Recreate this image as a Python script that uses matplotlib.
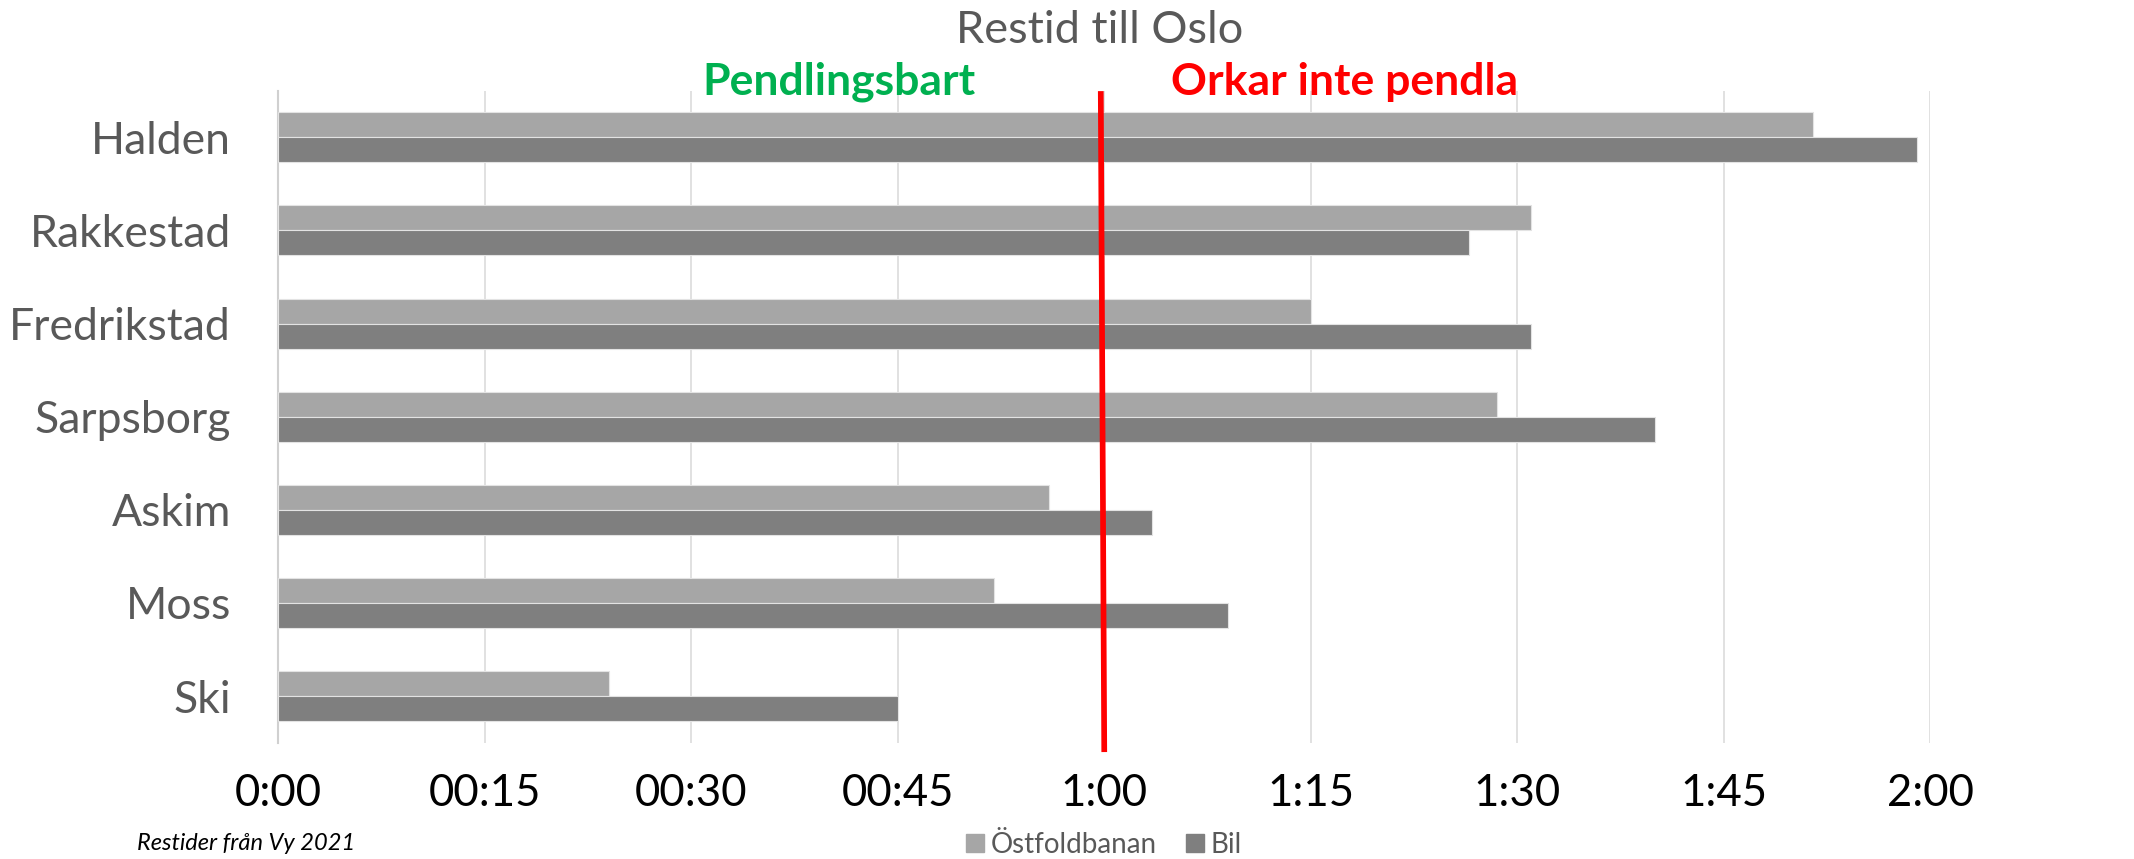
import numpy as np
import matplotlib.pyplot as plt
from matplotlib.lines import Line2D

# Restid till Oslo, minutes
towns = ["Halden", "Rakkestad", "Fredrikstad", "Sarpsborg", "Askim", "Moss", "Ski"]
ostfoldbanan = [111.5, 91, 75, 88.5, 56, 52, 24]
bil = [119, 86.5, 91, 100, 63.5, 69, 45]

tick_vals = [0, 15, 30, 45, 60, 75, 90, 105, 120]
tick_labels = ["0:00", "00:15", "00:30", "00:45", "1:00", "1:15", "1:30", "1:45", "2:00"]

grey_text = '#595959'
plt.rcParams['font.family'] = ['Lato', 'DejaVu Sans']

fig = plt.figure(figsize=(21.34, 8.59), dpi=100)
ax = fig.add_axes([0.1303, 0.1354, 0.7743, 0.759])

y = np.arange(len(towns))
h = 0.268
ax.barh(y - h/2, ostfoldbanan, height=h, color='#A6A6A6', edgecolor='#e3e3e3', linewidth=0.8, zorder=3)
ax.barh(y + h/2, bil, height=h, color='#7F7F7F', edgecolor='#e3e3e3', linewidth=0.8, zorder=3)

ax.set_xlim(0, 120)
ax.set_ylim(len(towns) - 0.5, -0.5)
ax.set_xticks(tick_vals)
ax.set_xticklabels(tick_labels, fontsize=31.5, color='black')
ax.set_yticks(y)
ax.set_yticklabels(towns, fontsize=32, color=grey_text)
ax.tick_params(axis='both', length=0)
ax.tick_params(axis='x', pad=22)
ax.tick_params(axis='y', pad=34)

ax.grid(axis='x', color='#D9D9D9', linewidth=1.1, zorder=0)
ax.set_axisbelow(True)
for s in ['top', 'right', 'bottom']:
    ax.spines[s].set_visible(False)
ax.spines['left'].set_color('#D0D0D0')
ax.spines['left'].set_linewidth(1.5)

# red 1 hour limit
ax.plot([59.75, 60.0], [0.995, -0.010], color='red', linewidth=4.1,
        transform=ax.get_xaxis_transform(), clip_on=False, zorder=5)

fig.text(1100/2134, 1 - 43/859, "Restid till Oslo", fontsize=32.5, color=grey_text,
         ha='center', va='baseline')
fig.text(839/2134, 1 - 95/859, "Pendlingsbart", fontsize=32, fontweight='bold',
         color='#00B050', ha='center', va='baseline')
fig.text(1345/2134, 1 - 95/859, "Orkar inte pendla", fontsize=32, fontweight='bold',
         color='red', ha='center', va='baseline')

fig.text(137/2134, 1 - 843/859, "Restider från Vy 2021", fontsize=17, style='italic',
         color='black', ha='left', va='center')

handles = [Line2D([], [], marker='s', linestyle='none', markersize=13, color='#A6A6A6'),
           Line2D([], [], marker='s', linestyle='none', markersize=13, color='#7F7F7F')]
leg = fig.legend(handles, ["Östfoldbanan", "Bil"], loc='center', ncol=2,
                 bbox_to_anchor=(1103/2134, 1 - 845/859), frameon=False, fontsize=20,
                 handlelength=0.8, handletextpad=0.15, columnspacing=1.0)
for t in leg.get_texts():
    t.set_color(grey_text)

plt.savefig('out.png', dpi=100)
